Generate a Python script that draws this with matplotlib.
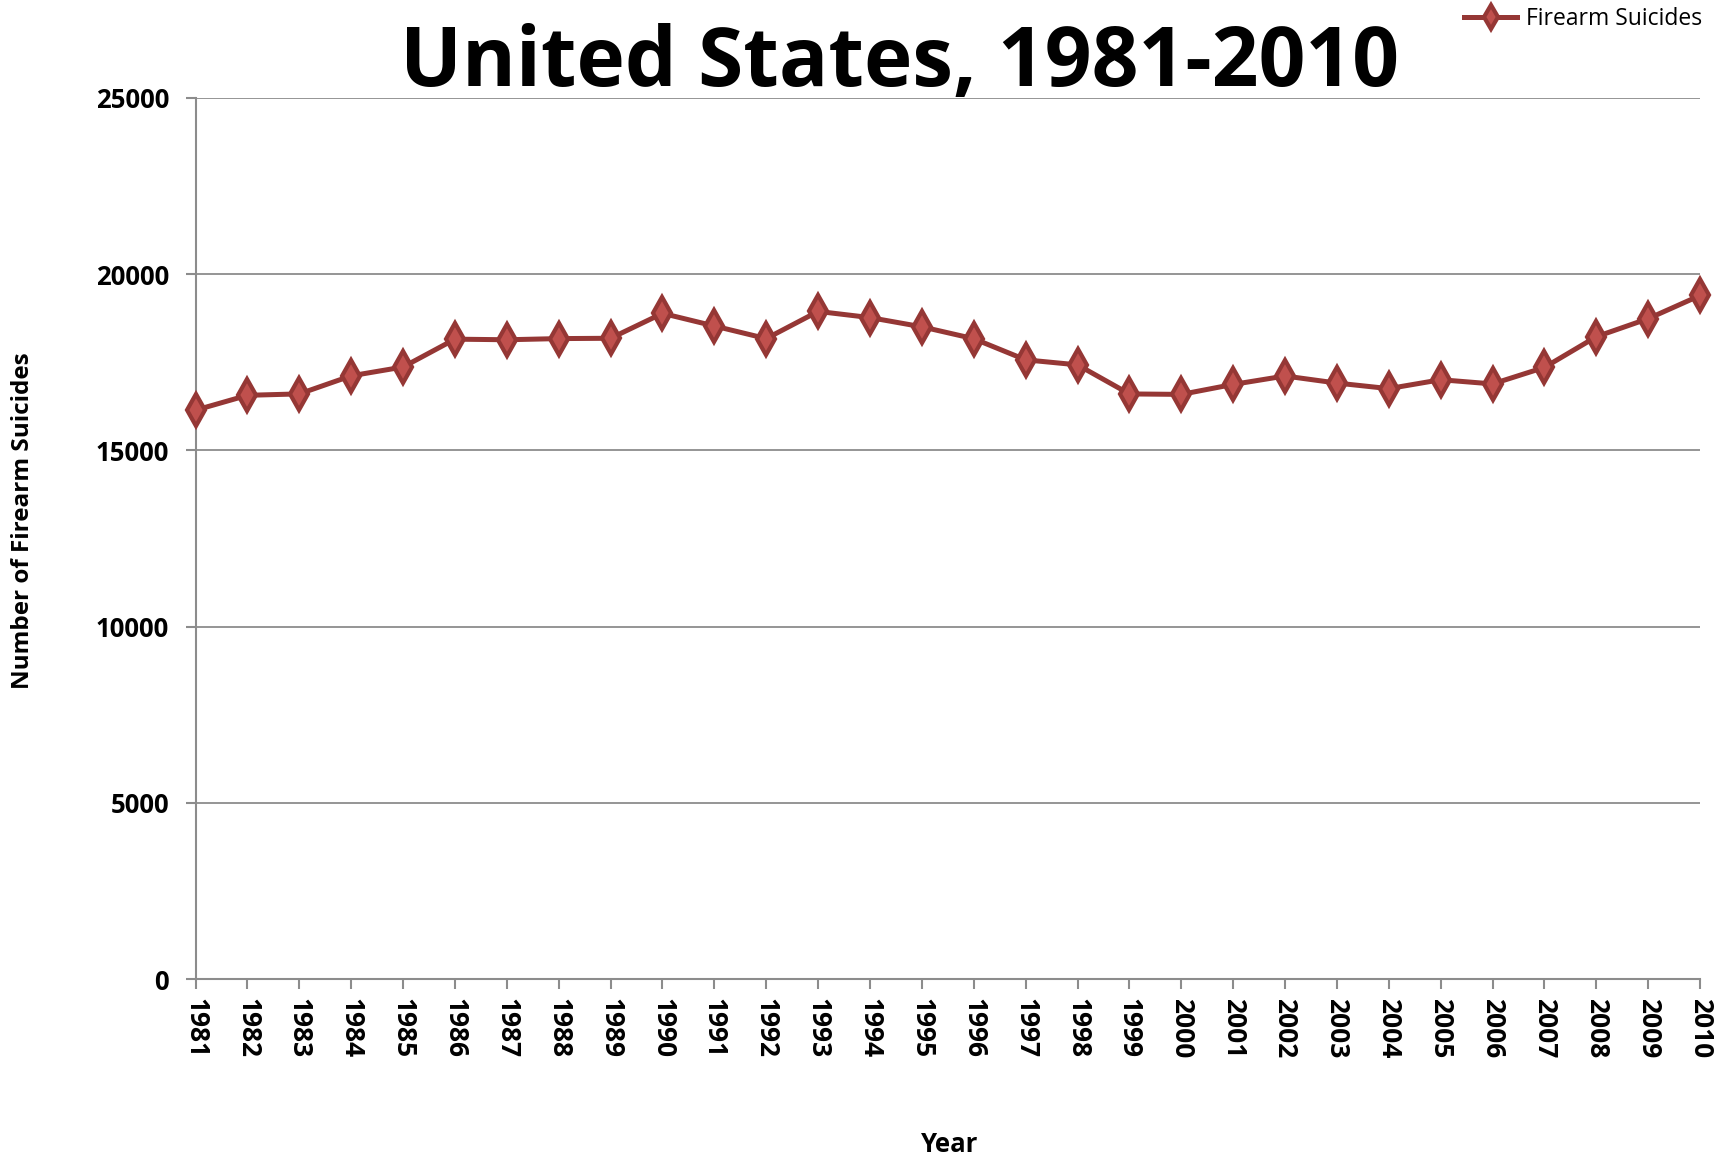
import matplotlib
matplotlib.use("Agg")
import matplotlib.pyplot as plt

# Datos
years = list(range(1981, 2011))
suicides = [16139, 16560, 16600, 17113, 17363, 18153, 18136, 18169, 18178, 18885,
            18526, 18169, 18940, 18765, 18503, 18166, 17566, 17424, 16599, 16586,
            16869, 17108, 16907, 16750, 17002, 16883, 17352, 18223, 18735, 19392]
y_ticks = [0, 5000, 10000, 15000, 20000, 25000]

plt.rcParams['font.family'] = ['Open Sans', 'DejaVu Sans']

fig = plt.figure(figsize=(17.23, 11.59), dpi=100)
ax = fig.add_axes([0.1135, 0.1553, 0.8732, 0.7603])

ax.plot(years, suicides, color='#953735', linewidth=3.6, marker='d',
        markersize=16, markerfacecolor='#C0504D', markeredgecolor='#953735',
        markeredgewidth=3, label='Firearm Suicides', clip_on=False, zorder=3)

ax.set_xlim(1981, 2010)
ax.set_ylim(0, 25000)
ax.set_xticks(years)
ax.set_xticklabels([str(y) for y in years], rotation=-90, fontsize=19, fontweight='bold')
ax.set_yticks(y_ticks)
ax.set_yticklabels([str(v) for v in y_ticks], fontsize=18.5, fontweight='bold')

ax.grid(axis='y', color='#8c8c8c', linewidth=1.3)
ax.set_axisbelow(True)
for side in ['top', 'right']:
    ax.spines[side].set_visible(False)
for side in ['left', 'bottom']:
    ax.spines[side].set_color('#8c8c8c')
    ax.spines[side].set_linewidth(1.5)
ax.tick_params(axis='both', color='#8c8c8c', width=1.5, length=7, direction='out')
ax.tick_params(axis='y', pad=12)
ax.tick_params(axis='x', pad=7)

fig.text(0.522, 0.944, "United States, 1981-2010", ha='center', va='center',
         fontsize=59, fontweight='bold')
fig.text(0.0135, 0.551, "Number of Firearm Suicides", rotation=90, ha='center',
         va='center', fontsize=17.5, fontweight='bold')
fig.text(0.551, 0.0128, "Year", ha='center', va='center', fontsize=18.5, fontweight='bold')

leg = ax.legend(loc='upper right', bbox_to_anchor=(0.996, 1.006), bbox_transform=fig.transFigure,
                frameon=False, fontsize=16.5, handlelength=2.3, handletextpad=0.4,
                borderaxespad=0.2, markerscale=0.75)

fig.savefig("out.png", dpi=100)
